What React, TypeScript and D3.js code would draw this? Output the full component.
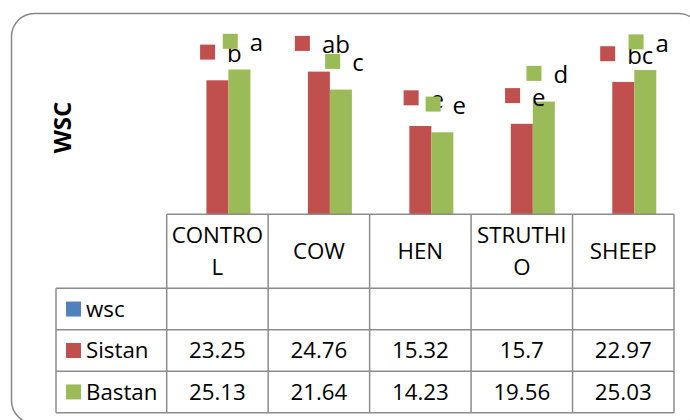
import React from "react";
import * as d3 from "d3";

const categories = ["CONTROL", "COW", "HEN", "STRUTHIO", "SHEEP"];
const seriesNames = ["wsc", "Sistan", "Bastan"];
const wscValues: (number | null)[] = [null, null, null, null, null];
const sistanValues = [23.25, 24.76, 15.32, 15.7, 22.97];
const bastanValues = [25.13, 21.64, 14.23, 19.56, 25.03];
const sistanLetters = ["b", "ab", "e", "e", "bc"];
const bastanLetters = ["a", "c", "e", "d", "a"];

const COLORS: Record<string, string> = { wsc: "#4F81BD", Sistan: "#C0504D", Bastan: "#9BBB59" };
const FONT = "'Open Sans', 'Noto Sans', sans-serif";

let _ctx: CanvasRenderingContext2D | null = null;
function measure(text: string, size: number, weight = "normal") {
  if (!_ctx) _ctx = document.createElement("canvas").getContext("2d");
  if (!_ctx) return text.length * size * 0.55;
  _ctx.font = `${weight} ${size}px 'Open Sans'`;
  return _ctx.measureText(text).width;
}

function wrapChars(text: string, maxW: number, size: number): string[] {
  const lines: string[] = [];
  let cur = "";
  for (const ch of text) {
    if (cur && measure(cur + ch, size) > maxW) {
      lines.push(cur);
      cur = ch;
    } else cur += ch;
  }
  if (cur) lines.push(cur);
  return lines;
}

export default function App() {
  const W = 690, H = 420;
  const plotLeft = 166.7, plotRight = 674;
  const baseY = 214.3;
  const tableFS = 22.3;
  const labelFS = 24;

  const x0 = d3.scaleBand<string>().domain(categories).range([plotLeft, plotRight]).padding(0);
  const bw = x0.bandwidth();
  const x1 = d3.scaleBand<string>().domain(seriesNames).range([bw / 2 - 33, bw / 2 + 33]).padding(0);
  const y = d3.scaleLinear().domain([0, 30]).range([baseY, baseY - 30 * 5.763]);

  const seriesData: Record<string, (number | null)[]> = {
    wsc: wscValues,
    Sistan: sistanValues,
    Bastan: bastanValues,
  };
  const letters: Record<string, string[]> = { Sistan: sistanLetters, Bastan: bastanLetters };

  const headerTop = baseY, headerBottom = 288.3;
  const rowH = 41.45;
  const tableLeft = 56;
  const rowTops = [headerBottom, headerBottom + rowH, headerBottom + 2 * rowH];
  const tableBottom = headerBottom + 3 * rowH;
  const grid = "#8c8c8c";

  const fmt = (v: number | null) => (v == null ? "" : String(v));

  return (
    <svg width={W} height={H} style={{ position: "absolute", left: 0, top: 0, background: "#fff" }} fontFamily={FONT}>
      <rect x={0} y={0} width={W} height={H} fill="#fff" />
      <rect x={11.5} y={13.5} width={690} height={410} rx={23} ry={23} fill="none" stroke="#868686" strokeWidth={1.5} />

      {/* Y-axis title */}
      <text transform={`translate(70.5,127.5) rotate(-90)`} textAnchor="middle" fontWeight="bold" fontSize={24} fill="#000">
        WSC
      </text>

      {/* Bars */}
      {seriesNames.map((s) =>
        categories.map((c, i) => {
          const v = seriesData[s][i];
          if (v == null) return null;
          const bx = (x0(c) ?? 0) + (x1(s) ?? 0);
          return <rect key={s + c} x={bx} y={y(v)} width={x1.bandwidth()} height={baseY - y(v)} fill={COLORS[s]} />;
        })
      )}

      {/* Data labels with legend keys */}
      {["Sistan", "Bastan"].map((s) =>
        categories.map((c, i) => {
          const v = seriesData[s][i] as number;
          const cx = (x0(c) ?? 0) + (x1(s) ?? 0) + x1.bandwidth() / 2;
          const top = y(v);
          const txt = letters[s][i];
          const w = measure(txt, labelFS);
          const mx = cx + 4 - (28 + w) / 2;
          return (
            <g key={"lab" + s + c}>
              <rect x={mx} y={top - 35.7} width={15} height={15} fill={COLORS[s]} />
              <text x={mx + 27} y={top - 18.2} fontSize={labelFS} fill="#000">
                {txt}
              </text>
            </g>
          );
        })
      )}

      {/* Data table grid */}
      <g stroke={grid} strokeWidth={1.5} fill="none">
        <line x1={plotLeft} x2={plotRight} y1={headerTop} y2={headerTop} />
        {[headerBottom, ...rowTops.slice(1), tableBottom].map((yy, k) => (
          <line key={"h" + k} x1={tableLeft} x2={plotRight} y1={yy} y2={yy} />
        ))}
        {categories.map((c, i) => (
          <line key={"v" + i} x1={x0(c)} x2={x0(c)} y1={headerTop} y2={tableBottom} />
        ))}
        <line x1={plotRight} x2={plotRight} y1={headerTop} y2={tableBottom} />
        <line x1={tableLeft} x2={tableLeft} y1={headerBottom} y2={tableBottom} />
      </g>

      {/* Header category labels */}
      {categories.map((c) => {
        const lines = wrapChars(c, bw - 4, tableFS);
        const cy = (headerTop + headerBottom) / 2;
        const lh = 32.4;
        return (
          <text key={"cat" + c} textAnchor="middle" fontSize={tableFS} fill="#000">
            {lines.map((ln, k) => (
              <tspan key={k} x={(x0(c) ?? 0) + bw / 2} y={cy + (k - (lines.length - 1) / 2) * lh + 7.9}>
                {ln}
              </tspan>
            ))}
          </text>
        );
      })}

      {/* Legend column + values */}
      {seriesNames.map((s, r) => {
        const cy = rowTops[r] + rowH / 2;
        return (
          <g key={"row" + s}>
            <rect x={66} y={cy - 7.5} width={15} height={15} fill={COLORS[s]} />
            <text x={86} y={cy + 7.9} fontSize={tableFS} fill="#000">
              {s}
            </text>
            {categories.map((c, i) => (
              <text key={c} x={(x0(c) ?? 0) + bw / 2} y={cy + 7.9} textAnchor="middle" fontSize={tableFS} fill="#000">
                {fmt(seriesData[s][i])}
              </text>
            ))}
          </g>
        );
      })}
    </svg>
  );
}
